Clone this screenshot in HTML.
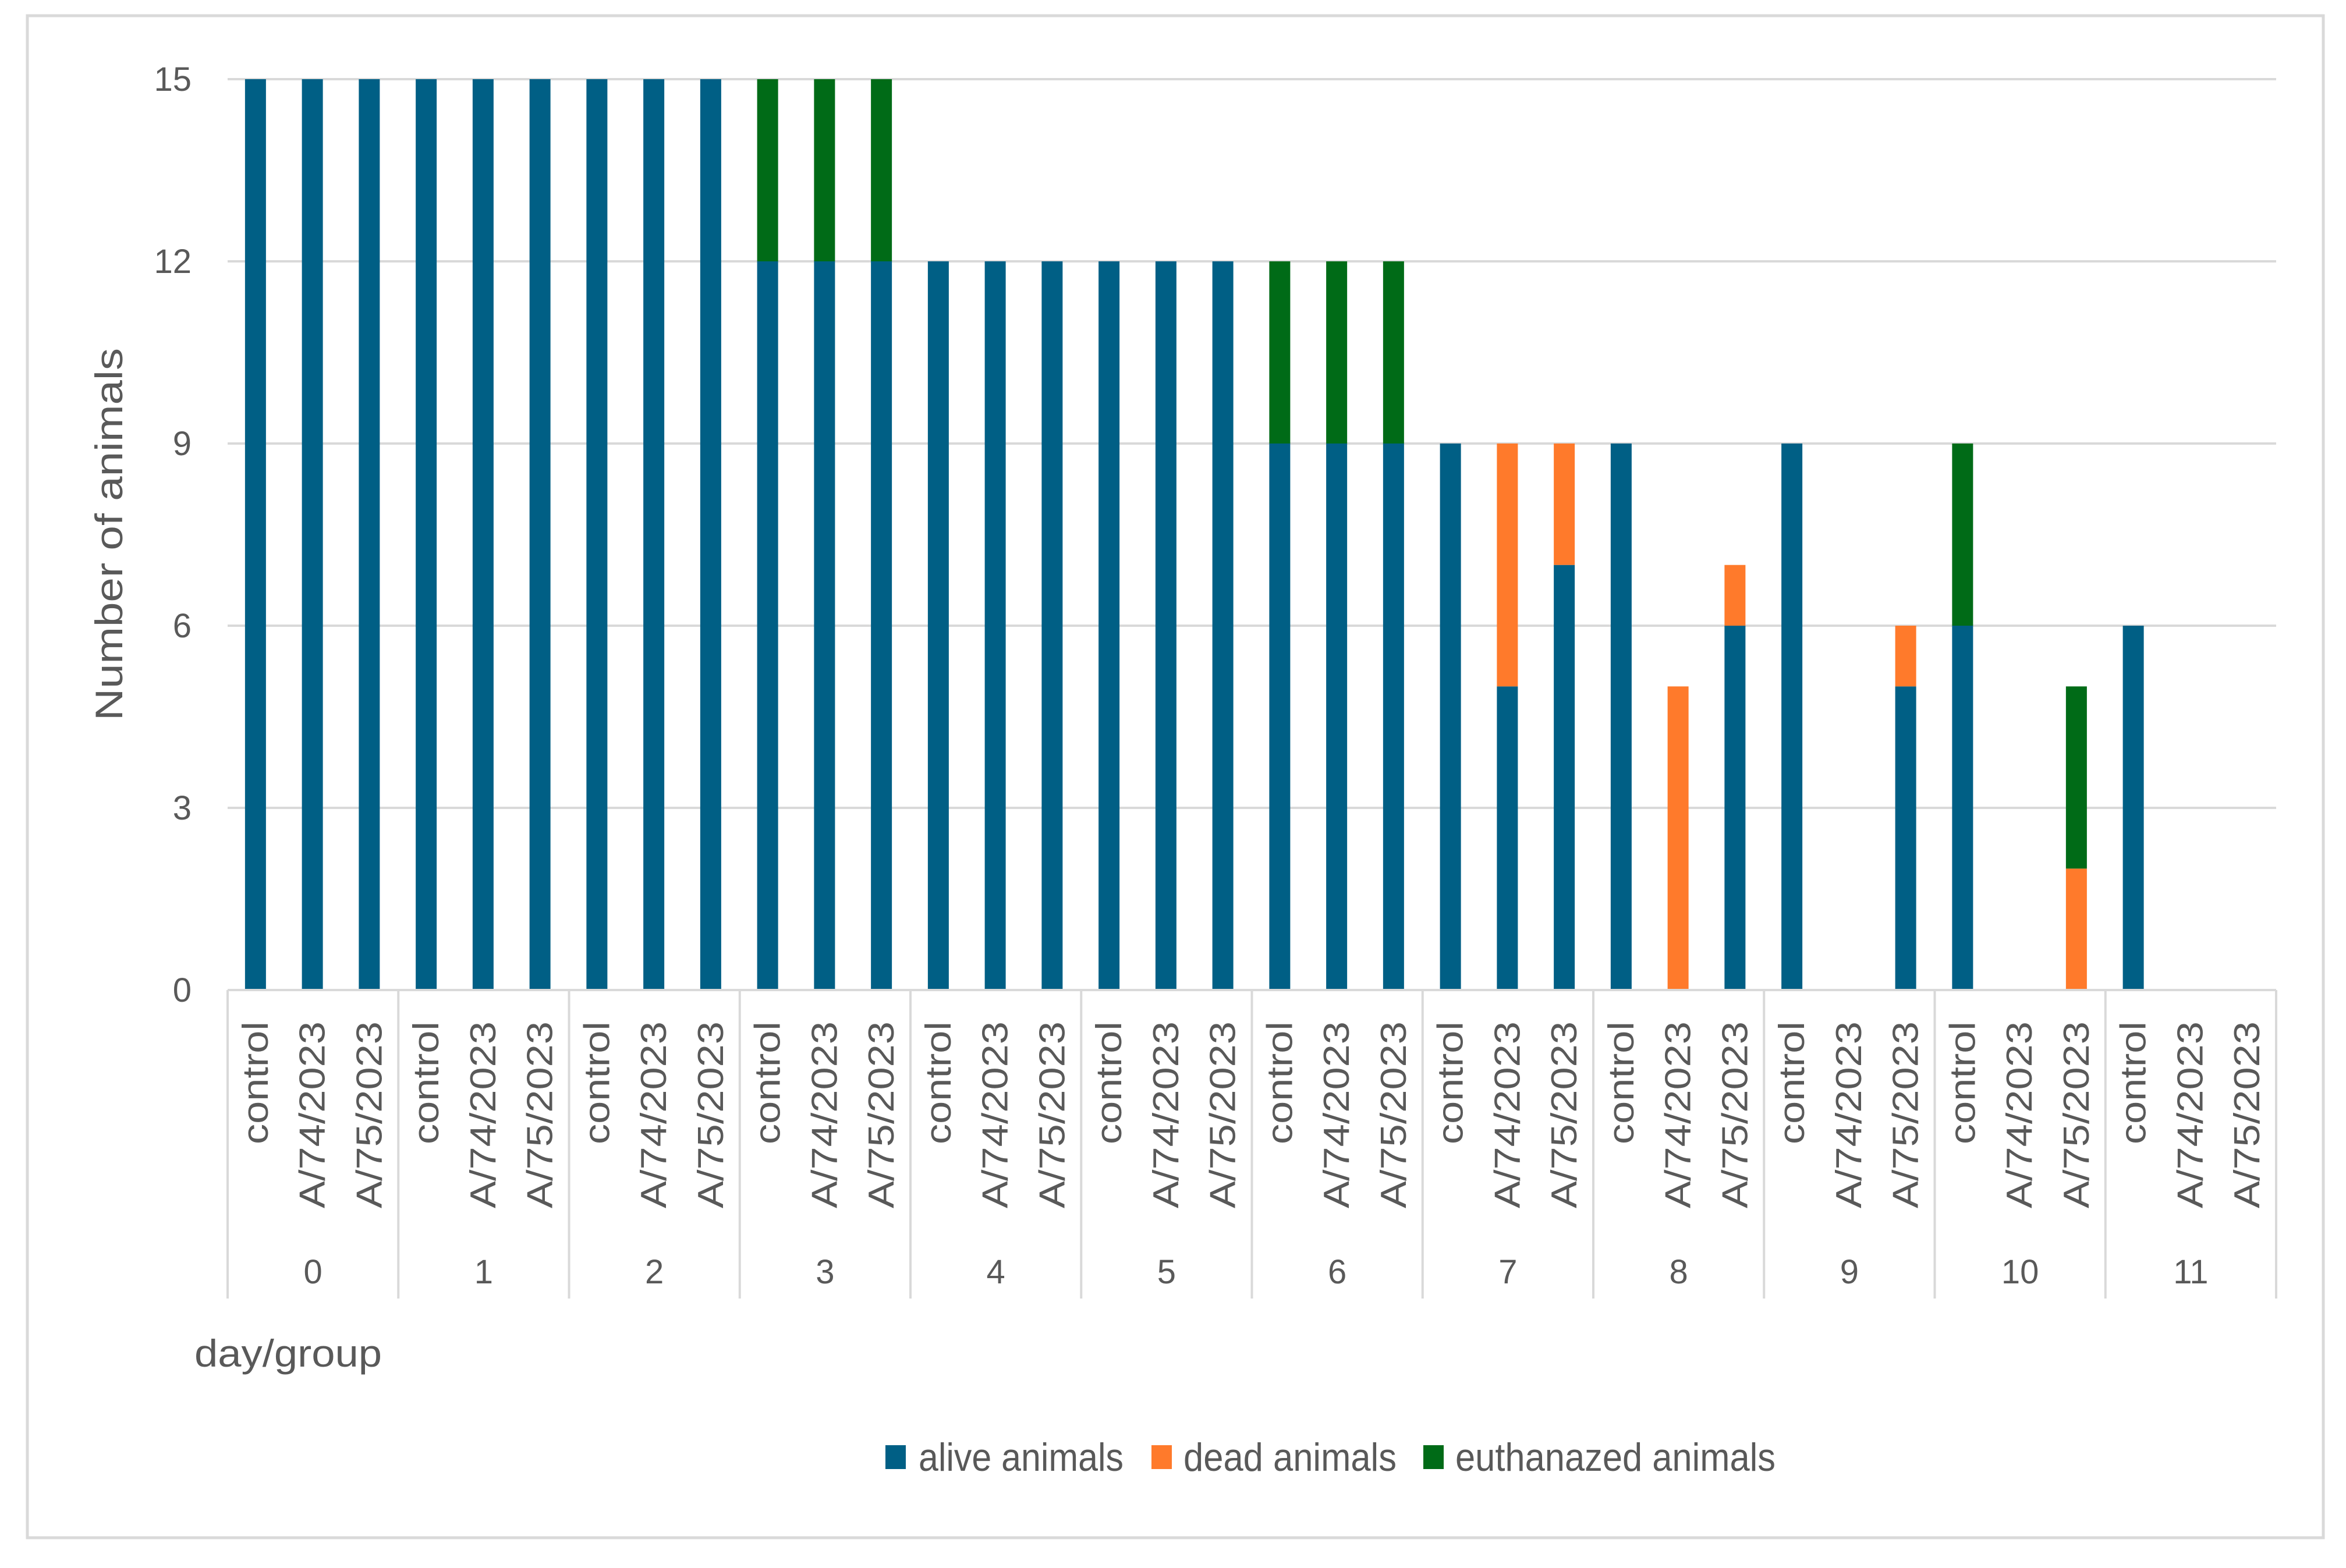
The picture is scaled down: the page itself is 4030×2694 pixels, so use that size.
<!DOCTYPE html>
<html><head><meta charset="utf-8"><style>
html,body{margin:0;padding:0;background:#fff;}
svg{display:block;}
text{font-family:"Liberation Sans",sans-serif;fill:#595959;}
</style></head><body>
<svg id="chart" width="4030" height="2694" viewBox="0 0 4030 2694" xmlns="http://www.w3.org/2000/svg">
<rect x="47" y="27" width="3944" height="2615" fill="#fff" stroke="#d9d9d9" stroke-width="5"/>
<g id="grid"></g><g id="bars"></g><g id="xaxis"></g>
<text transform="translate(210,918) rotate(-90)" text-anchor="middle" font-size="66" textLength="640" lengthAdjust="spacingAndGlyphs">Number of animals</text>
<text x="334" y="2348" font-size="66" textLength="322" lengthAdjust="spacingAndGlyphs">day/group</text>
<g>
<rect x="1521" y="2483" width="35" height="41" fill="#005F85"/>
<text x="1578" y="2527" font-size="68" textLength="352" lengthAdjust="spacingAndGlyphs">alive animals</text>
<rect x="1978" y="2483" width="35" height="41" fill="#FF7A2B"/>
<text x="2033" y="2527" font-size="68" textLength="366" lengthAdjust="spacingAndGlyphs">dead animals</text>
<rect x="2445" y="2483" width="35" height="41" fill="#006B17"/>
<text x="2500" y="2527" font-size="68" textLength="550" lengthAdjust="spacingAndGlyphs">euthanazed animals</text>
</g>
</svg>
<script>
const days = ["0","1","2","3","4","5","6","7","8","9","10","11"];
const groups = ["control","A/74/2023","A/75/2023"];
const alive = [15,15,15, 15,15,15, 15,15,15, 12,12,12, 12,12,12, 12,12,12, 9,9,9, 9,5,7, 9,0,6, 9,0,5, 6,0,0, 6,0,0];
const dead  = [0,0,0, 0,0,0, 0,0,0, 0,0,0, 0,0,0, 0,0,0, 0,0,0, 0,4,2, 0,5,1, 0,0,1, 0,0,2, 0,0,0];
const euth  = [0,0,0, 0,0,0, 0,0,0, 3,3,3, 0,0,0, 0,0,0, 3,3,3, 0,0,0, 0,0,0, 0,0,0, 3,0,3, 0,0,0];
const yTicks = [0,3,6,9,12,15];

const NS="http://www.w3.org/2000/svg";
const L=391, R=3910, Y0=1701, Y15=136;
const n=days.length*groups.length, cw=(R-L)/n, bw=36;
const y=v=>Y0-(Y0-Y15)*v/15;
const xc=i=>L+cw*(i+0.5);
function mk(tag,attrs,parent){const e=document.createElementNS(NS,tag);for(const k in attrs)e.setAttribute(k,attrs[k]);parent.appendChild(e);return e;}
const grid=document.getElementById('grid'),bars=document.getElementById('bars'),xa=document.getElementById('xaxis');
yTicks.forEach(t=>{
  const ln=mk('line',{x1:L,x2:R,y1:y(t),y2:y(t),stroke:'#d9d9d9','stroke-width':4},grid);
  
  
  const tx=mk('text',{x:329,y:y(t)+20,'text-anchor':'end','font-size':58},grid);
  tx.textContent=t;
  
  
});
const series=[[alive,'#005F85','alive'],[dead,'#FF7A2B','dead'],[euth,'#006B17','euthanazed']];
for(let i=0;i<n;i++){
  let base=0;
  series.forEach(([arr,col,nm])=>{
    const v=arr[i]; if(v<=0)return;
    const r=mk('rect',{x:xc(i)-bw/2-1,y:y(base+v),width:bw,height:y(base)-y(base+v),fill:col},bars);
    
    
    base+=v;
  });
  const g=groups[i%3];
  const t=mk('text',{transform:`translate(${xc(i)+20},1755) rotate(-90)`,'text-anchor':'end','font-size':62,textLength:(g==='control'?211:321),lengthAdjust:'spacingAndGlyphs'},xa);
  t.textContent=g;
  
  
}
const ax=mk('line',{x1:L,x2:R,y1:Y0,y2:Y0,stroke:'#d9d9d9','stroke-width':4},xa);


for(let d=0;d<=days.length;d++){
  const x=L+cw*3*d;
  const s=mk('line',{x1:x,x2:x,y1:Y0,y2:2231,stroke:'#d9d9d9','stroke-width':4},xa);
  
  
  if(d<days.length){
    const t=mk('text',{x:x+cw*1.5,y:2205,'text-anchor':'middle','font-size':58},xa);
    t.textContent=days[d];
    
    
  }
}
</script>
</body></html>
